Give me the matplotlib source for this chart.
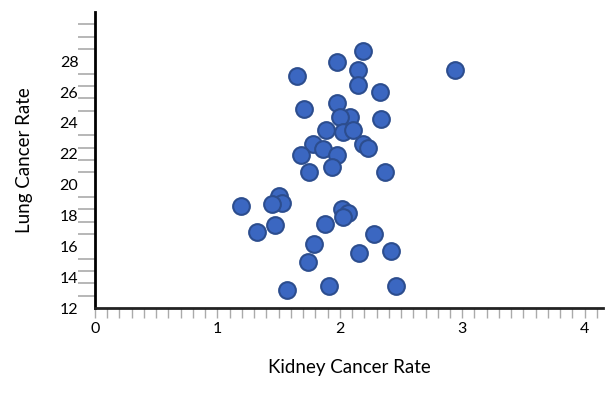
import numpy as np
import matplotlib
matplotlib.use("Agg")
import matplotlib.pyplot as plt
from matplotlib.ticker import MultipleLocator, FixedLocator

# kidney vs lung cancer rates
kidney = [2.19, 1.98, 2.15, 2.94, 1.65, 2.15, 2.33, 1.98, 1.71, 2.08, 2.00,
          2.34, 1.89, 2.03, 2.11, 2.19, 2.23, 1.78, 1.86, 1.98, 1.68, 1.94,
          1.75, 2.37, 1.50, 1.53, 1.45, 1.19, 2.02, 2.07, 2.03, 1.88, 1.47,
          1.32, 2.28, 1.79, 2.42, 2.16, 1.74, 1.91, 2.46, 1.57]
lung = [28.65, 27.97, 27.47, 27.45, 27.02, 26.48, 26.03, 25.31, 24.90, 24.41,
        24.41, 24.28, 23.52, 23.41, 23.52, 22.66, 22.40, 22.61, 22.34, 21.90,
        21.90, 21.13, 20.80, 20.80, 19.27, 18.84, 18.73, 18.60, 18.45, 18.13,
        17.91, 17.44, 17.37, 16.96, 16.81, 16.14, 15.71, 15.58, 14.96, 13.42,
        13.42, 13.17]
xticks = [0, 1, 2, 3, 4]
yticks = [12, 14, 16, 18, 20, 22, 24, 26, 28]

plt.rcParams['font.family'] = ['Lato', 'DejaVu Sans']

fig = plt.figure(figsize=(6.14, 3.98), dpi=100)
ax = fig.add_axes([95/614, 1-308/398, 508/614, 296/398])

ax.scatter(kidney, lung, s=145, color='#3b67c1', edgecolors='#2c4d8e',
           linewidths=1.5, zorder=3, clip_on=False)

ax.set_xlim(0, 4.15)
ax.set_ylim(12, 31.2)

for s in ['top', 'right']:
    ax.spines[s].set_visible(False)
ax.spines['left'].set_linewidth(2)
ax.spines['left'].set_color('black')
ax.spines['bottom'].set_linewidth(2)
ax.spines['bottom'].set_color('#222222')

# x ticks: minor every 0.1 pointing down, labels on whole numbers
ax.set_xticks(xticks)
ax.set_xticklabels([str(t) for t in xticks], fontsize=11.5)
ax.xaxis.set_minor_locator(MultipleLocator(0.1))
ax.tick_params(axis='x', which='major', length=7, width=1, color='#aaaaaa',
               direction='out', pad=3)
ax.tick_params(axis='x', which='minor', length=7, width=1, color='#aaaaaa',
               direction='out')

# y ticks: gray marks every 0.8, labels every 2
ax.set_yticks(yticks)
ax.set_yticklabels([str(t) for t in yticks], fontsize=11.5)
ax.yaxis.set_minor_locator(FixedLocator(np.arange(12, 30.5, 0.8)))
ax.tick_params(axis='y', which='major', length=0, pad=12)
ax.tick_params(axis='y', which='minor', length=12, width=1.2, color='#aaaaaa',
               direction='out')

ax.set_xlabel('Kidney Cancer Rate', fontsize=13.5)
ax.set_ylabel('Lung Cancer Rate', fontsize=13.5)
ax.xaxis.set_label_coords(0.5, -0.172)
ax.yaxis.set_label_coords(-0.122, 0.5)

fig.savefig('out.png', dpi=100)
